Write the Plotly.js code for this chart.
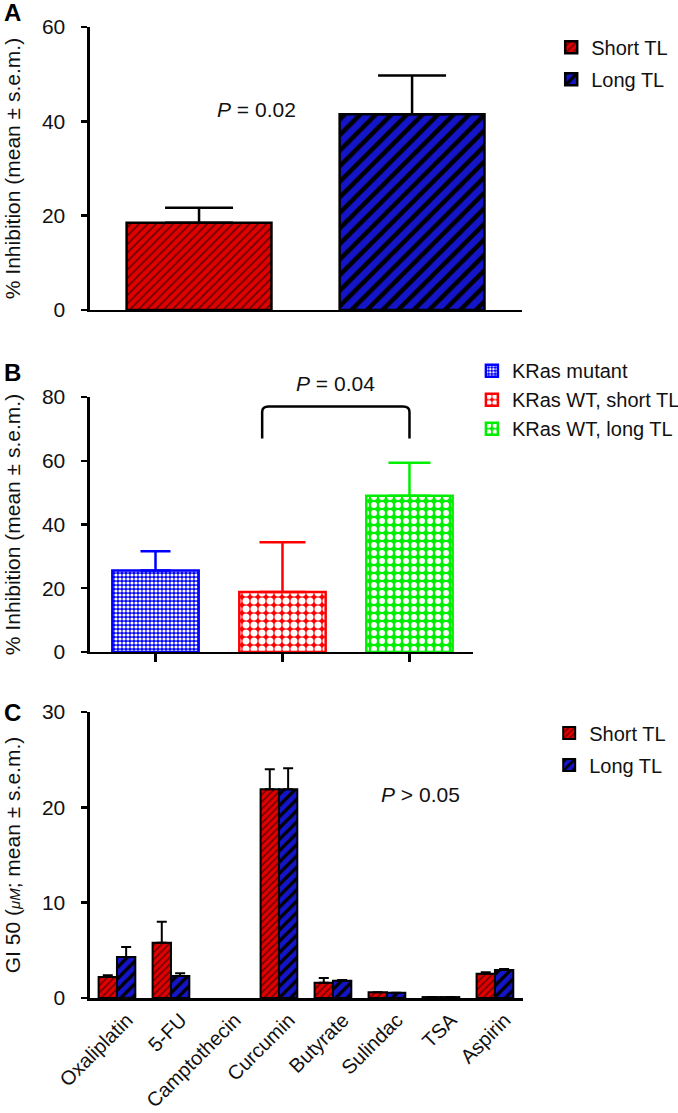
<!DOCTYPE html>
<html>
<head>
<meta charset="utf-8">
<script src="https://cdn.plot.ly/plotly-3.0.1.min.js"></script>
<style>html,body{margin:0;padding:0;background:#fff;}#chart{width:678px;height:1113px;}</style>
</head>
<body>
<div id="chart"></div>
<script>
// ---------- Panel A data ----------
const groupsA = ["Short TL", "Long TL"];
const valuesA = [18.5, 41.5];
const errA = [3.2, 8.2];

// ---------- Panel B data ----------
const groupsB = ["KRas mutant", "KRas WT, short TL", "KRas WT, long TL"];
const valuesB = [25.6, 18.8, 49.0];
const errB = [6.0, 15.6, 10.4];

// ---------- Panel C data ----------
const drugsC = ["Oxaliplatin", "5-FU", "Camptothecin", "Curcumin", "Butyrate", "Sulindac", "TSA", "Aspirin"];
const shortC = [2.2, 5.8, null, 21.9, 1.6, 0.6, 0.1, 2.55];
const shortErrC = [0.2, 2.2, 0.0, 2.1, 0.5, 0.0, 0.0, 0.15];
const longC = [4.3, 2.3, null, 21.9, 1.8, 0.55, 0.1, 2.95];
const longErrC = [1.05, 0.3, 0.0, 2.2, 0.1, 0.0, 0.0, 0.1];

const FONT = "Liberation Sans, Arial, Helvetica, sans-serif";
const RED = "#e00000", REDFG = "#6a0000";
const BLUE = "#1414c8", BLUEFG = "#000000";

const traces = [];

// Panel A
traces.push({
  type: "bar", x: [groupsA[0]], y: [valuesA[0]], name: groupsA[0],
  xaxis: "x", yaxis: "y", offsetgroup: "a", legend: "legend", legendgroup: "a1",
  marker: {color: RED, line: {color: "#000", width: 2.5},
           pattern: {shape: "/", bgcolor: RED, fgcolor: REDFG, size: 6, solidity: 0.3}},
  error_y: {type: "data", symmetric: false, array: [errA[0]], arrayminus: [0], color: "#000", thickness: 2.5, width: 34}
});
traces.push({
  type: "bar", x: [groupsA[1]], y: [valuesA[1]], name: groupsA[1],
  xaxis: "x", yaxis: "y", offsetgroup: "a", legend: "legend", legendgroup: "a2",
  marker: {color: BLUE, line: {color: "#000", width: 2.5},
           pattern: {shape: "/", bgcolor: BLUE, fgcolor: BLUEFG, size: 11, solidity: 0.4}},
  error_y: {type: "data", symmetric: false, array: [errA[1]], arrayminus: [0], color: "#000", thickness: 2.5, width: 34}
});

// Panel B
const colB = ["#0000ff", "#ff0000", "#00ee00"];
const patB = [{shape: ".", size: 4, solidity: 0.5}, {shape: ".", size: 8, solidity: 0.6}, {shape: ".", size: 8, solidity: 0.45}];
const capB = [15, 23, 21];
for (let i = 0; i < groupsB.length; i++) {
  traces.push({
    type: "bar", x: [groupsB[i]], y: [valuesB[i]], name: groupsB[i],
    xaxis: "x2", yaxis: "y2", offsetgroup: "b", legend: "legend2", legendgroup: "b" + i,
    marker: {color: colB[i], line: {color: colB[i], width: 2.5},
             pattern: {shape: patB[i].shape, bgcolor: colB[i], fgcolor: "#ffffff", size: patB[i].size, solidity: patB[i].solidity}},
    error_y: {type: "data", symmetric: false, array: [errB[i]], arrayminus: [0], color: colB[i], thickness: 2.5, width: capB[i]}
  });
}

// Panel C
traces.push({
  type: "bar", x: drugsC, y: shortC, name: "Short TL",
  xaxis: "x3", yaxis: "y3", offsetgroup: "c1", legend: "legend3", legendgroup: "c1",
  marker: {color: RED, line: {color: "#000", width: 2},
           pattern: {shape: "/", bgcolor: RED, fgcolor: REDFG, size: 5, solidity: 0.3}},
  error_y: {type: "data", symmetric: false, array: shortErrC, arrayminus: shortC.map(() => 0), color: "#000", thickness: 2, width: 5}
});
traces.push({
  type: "bar", x: drugsC, y: longC, name: "Long TL",
  xaxis: "x3", yaxis: "y3", offsetgroup: "c2", legend: "legend3", legendgroup: "c2",
  marker: {color: BLUE, line: {color: "#000", width: 2},
           pattern: {shape: "/", bgcolor: BLUE, fgcolor: BLUEFG, size: 8, solidity: 0.4}},
  error_y: {type: "data", symmetric: false, array: longErrC, arrayminus: longC.map(() => 0), color: "#000", thickness: 2, width: 5}
});

const tickFont = {family: FONT, size: 21, color: "#111"};
const xTickFont = {family: FONT, size: 20, color: "#111"};
const titleFont = {family: FONT, size: 21, color: "#111"};
const legFont = {family: FONT, size: 20, color: "#111"};
const pFont = {family: FONT, size: 21, color: "#111"};

function yAx(domain, range, dtick, anchor, title) {
  return {domain: domain, range: range, dtick: dtick, tick0: 0, anchor: anchor, automargin: false,
    showline: true, linecolor: "#000", linewidth: 2.5, ticks: "outside", ticklen: 6, tickwidth: 2.5,
    tickcolor: "#000", showgrid: false, zeroline: false, tickfont: tickFont, ticklabelstandoff: 12,
    title: {text: title, font: titleFont, standoff: 16}};
}

const layout = {
  width: 678, height: 1113,
  margin: {l: 0, r: 0, t: 0, b: 0, autoexpand: false},
  paper_bgcolor: "#fff", plot_bgcolor: "#fff",
  barmode: "group", bargap: 0.32, bargroupgap: 0,
  font: {family: FONT, color: "#111"},
  xaxis: {domain: [0.1327, 0.7699], anchor: "y", type: "category", range: [-0.512, 1.516], automargin: false,
    showline: true, linecolor: "#000", linewidth: 2.5, ticks: "", showticklabels: false, showgrid: false, zeroline: false},
  yaxis: yAx([0.7215, 0.9757], [0, 60], 20, "x", "% Inhibition (mean ± s.e.m.)"),
  xaxis2: {domain: [0.1327, 0.6976], anchor: "y2", type: "category", range: [-0.516, 2.5], automargin: false,
    showline: true, linecolor: "#000", linewidth: 2.5, ticks: "outside", ticklen: 8, tickwidth: 2.5, tickcolor: "#000",
    showticklabels: false, showgrid: false, zeroline: false},
  yaxis2: yAx([0.4142, 0.6433], [0, 80], 20, "x2", "% Inhibition (mean ± s.e.m.)"),
  xaxis3: {domain: [0.1327, 0.7714], anchor: "y3", type: "category", range: [-0.5, 7.52], automargin: false,
    showline: true, linecolor: "#000", linewidth: 2.5, ticks: "", tickangle: -45, tickfont: xTickFont,
    ticklabelshift: 10, showgrid: false, zeroline: false},
  yaxis3: yAx([0.1033, 0.3603], [0, 30], 10, "x3", "GI 50 (<i><span style='font-size:15px'>μM</span></i>; mean ± s.e.m.)"),
  legend: {x: 0.813, y: 0.975, xanchor: "left", yanchor: "top", font: legFont, bgcolor: "rgba(0,0,0,0)",
    traceorder: "grouped", tracegroupgap: 3},
  legend2: {x: 0.696, y: 0.6845, xanchor: "left", yanchor: "top", font: legFont, bgcolor: "rgba(0,0,0,0)",
    traceorder: "grouped", tracegroupgap: 0},
  legend3: {x: 0.81, y: 0.359, xanchor: "left", yanchor: "top", font: legFont, bgcolor: "rgba(0,0,0,0)",
    traceorder: "grouped", tracegroupgap: 3},
  shapes: [
    {type: "path", xref: "x2", yref: "y2",
     path: "M 0.84,67 L 0.84,75.3 Q 0.84,77 0.89,77 L 1.95,77 Q 2.0,77 2.0,75.3 L 2.0,67",
     line: {color: "#000", width: 2.5}}
  ],
  annotations: [
    {xref: "x", yref: "y", x: 0.27, y: 42.5, text: "<i>P</i> = 0.02", showarrow: false, font: pFont},
    {xref: "x2", yref: "paper", x: 1.42, y: 1 - 383/1113, text: "<i>P</i> = 0.04", showarrow: false, font: pFont},
    {xref: "x3", yref: "y3", x: 5.63, y: 21.3, text: "<i>P</i> > 0.05", showarrow: false, font: pFont},
    {xref: "paper", yref: "paper", x: 2/678, y: 1 - 13/1113, xanchor: "left", yanchor: "middle", text: "<b>A</b>", showarrow: false, font: {family: FONT, size: 24, color: "#000"}},
    {xref: "paper", yref: "paper", x: 2/678, y: 1 - 372/1113, xanchor: "left", yanchor: "middle", text: "<b>B</b>", showarrow: false, font: {family: FONT, size: 24, color: "#000"}},
    {xref: "paper", yref: "paper", x: 2/678, y: 1 - 712/1113, xanchor: "left", yanchor: "middle", text: "<b>C</b>", showarrow: false, font: {family: FONT, size: 24, color: "#000"}}
  ]
};

Plotly.newPlot("chart", traces, layout, {staticPlot: true, displayModeBar: false});
</script>
</body>
</html>
